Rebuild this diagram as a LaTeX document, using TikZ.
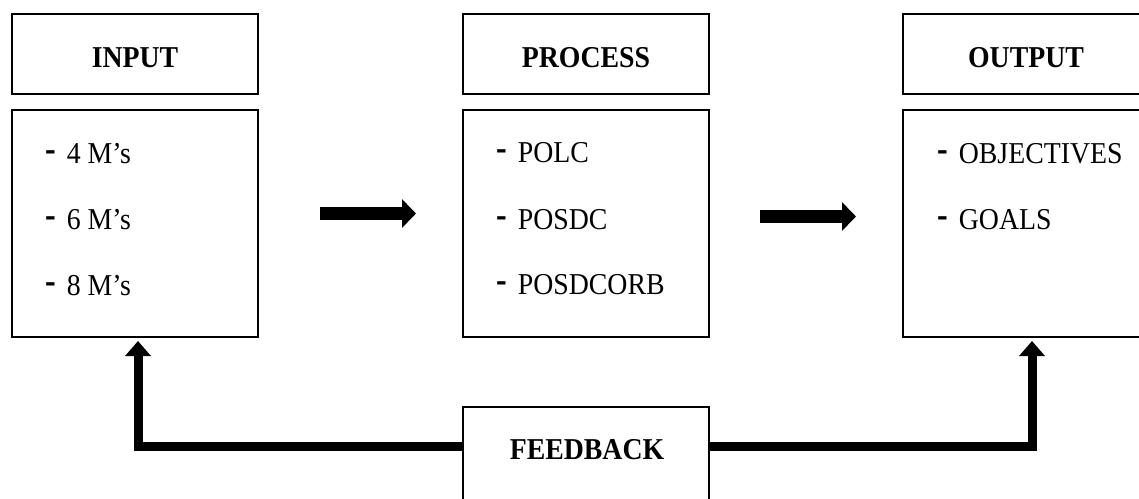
\documentclass[tikz,border=0pt]{standalone}
\usepackage{fontspec}
\setmainfont{Liberation Serif}
\usetikzlibrary{arrows.meta}
\begin{document}
\begin{tikzpicture}[x=1pt,y=-1pt,
  box/.style={draw,line width=2pt,minimum width=246pt,inner sep=0pt},
  hdrbox/.style={box,minimum height=80pt},
  bodybox/.style={box,minimum height=227pt},
  lbl/.style={anchor=base,inner sep=0pt,font=\fontsize{27.8}{33}\selectfont\bfseries},
  item/.style={anchor=base west,inner sep=0pt,font=\fontsize{27.8}{33}\selectfont},
  flow/.style={line width=13pt,-{Triangle[length=14pt,width=28pt]}},
  fb/.style={line width=9pt,line join=miter,-{Triangle[length=15pt,width=25pt]}}]
\useasboundingbox (0,0) rectangle (1139,498);
\clip (0,0) rectangle (1139,498);
\newcommand{\tall}[1]{\scalebox{1}[1.09]{#1}}
\newcommand{\dm}{\raisebox{1.5pt}{\scalebox{1.15}[1.4]{\bfseries -}}\hspace{11pt}}
% headers
\node[hdrbox] (inh) at (135,54) {};
\node[hdrbox] (prh) at (586,54) {};
\node[hdrbox] (ouh) at (1026,54) {};
\node[lbl] (inl) at (135,67) {\tall{INPUT}};
\node[lbl] (prl) at (586,67) {\tall{PROCESS}};
\node[lbl] (oul) at (1026,67) {\tall{OUTPUT}};
% bodies
\node[bodybox] (inb) at (135,223.5) {};
\node[bodybox] (prb) at (586,223.5) {};
\node[bodybox] (oub) at (1026,223.5) {};
\node[item] (i1) at (45,163) {\dm\tall{4 M’s}};
\node[item] (i2) at (45,229) {\dm\tall{6 M’s}};
\node[item] (i3) at (45,295) {\dm\tall{8 M’s}};
\node[item] (p1) at (496,162) {\dm\tall{POLC}};
\node[item] (p2) at (496,229) {\dm\tall{POSDC}};
\node[item] (p3) at (496,294) {\dm\tall{POSDCORB}};
\node[item] (o1) at (937,163) {\dm\tall{OBJECTIVES}};
\node[item] (o2) at (937,229) {\dm\tall{GOALS}};
% feedback
\node[box,minimum height=100pt] (fbk) at (586,457) {};
\node[lbl] (fbl) at (587,459) {\tall{FEEDBACK}};
% flow arrows
\draw[flow] ([xshift=61pt,yshift=10pt]inb.east) -- ([xshift=-46pt,yshift=10pt]prb.west);
\draw[flow] ([xshift=50pt,yshift=7pt]prb.east) -- ([xshift=-46pt,yshift=7pt]oub.west);
% feedback arrows
\draw[fb] ([yshift=11pt]fbk.west) -| ([xshift=3pt,yshift=-3pt]inb.south);
\draw[fb] ([yshift=11pt]fbk.east) -| ([xshift=6pt,yshift=-3pt]oub.south);
\end{tikzpicture}
\end{document}
